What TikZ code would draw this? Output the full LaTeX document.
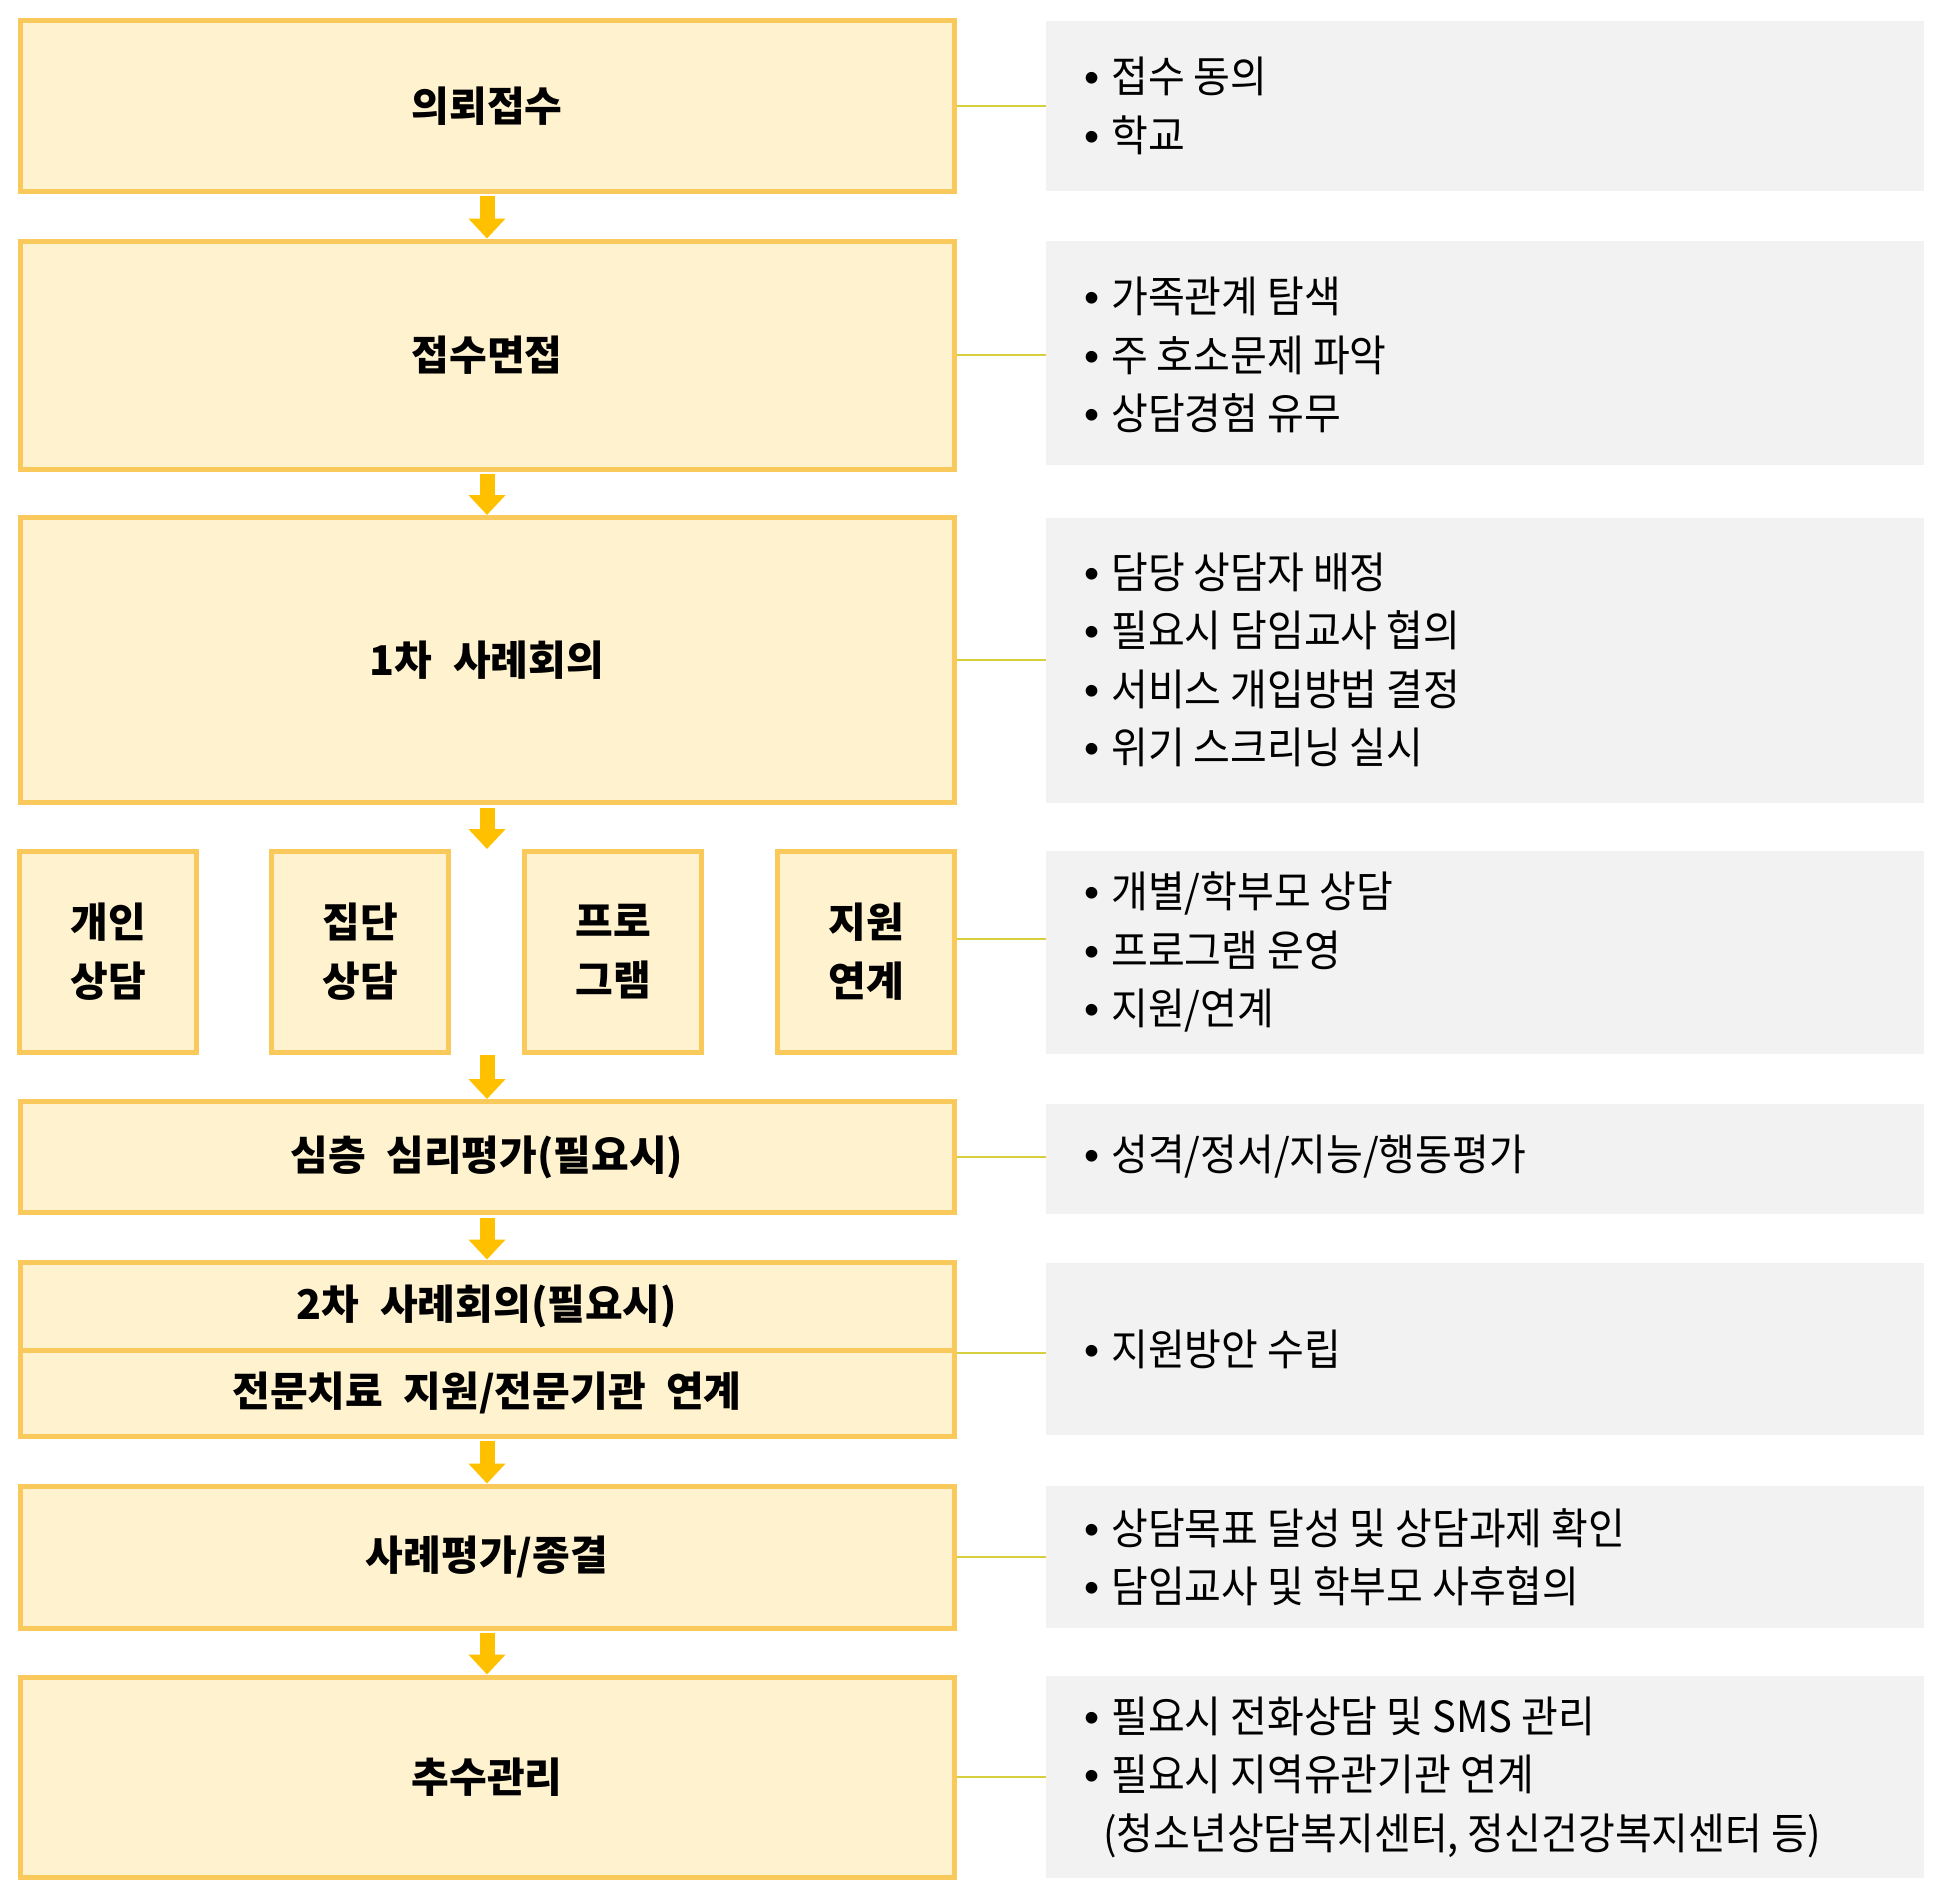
\documentclass[tikz,border=0pt]{standalone}
\usepackage{fontspec}
\setmainfont{Noto Sans CJK KR}
\newfontfamily\notefont{Noto Sans CJK KR}[FakeStretch=0.93]
\newfontfamily\dotfont{Liberation Sans}
\usetikzlibrary{arrows.meta}

\definecolor{boxfill}{RGB}{255,242,206}
\definecolor{boxline}{RGB}{250,201,92}
\definecolor{arrowc}{RGB}{255,192,0}
\definecolor{linkc}{RGB}{214,208,60}
\definecolor{notefill}{RGB}{242,242,242}

\newcommand{\gap}{\hspace{0.5em}}
\newcommand{\bul}{\makebox[27pt][l]{\dotfont •}}

\tikzset{
  stage/.style={draw=boxline, fill=boxfill, line width=5pt, minimum width=934pt,
    inner sep=0pt, align=center, font=\fontsize{41}{59}\selectfont\bfseries},
  substage/.style={stage, minimum width=177pt, minimum height=201pt},
  note/.style={fill=notefill, minimum width=878pt, inner sep=0pt},
  notetext/.style={anchor=west, inner sep=0pt, align=left,
    font=\notefont\fontsize{43}{58.5}\selectfont},
  flow/.style={arrowc, line width=15pt, shorten <=2.5pt,
    -{Triangle[width=36pt,length=20pt]}},
  link/.style={linkc, line width=2pt},
}

\begin{document}
\begin{tikzpicture}[x=1pt,y=-1pt]
  \useasboundingbox (0,0) rectangle (1940,1900);

  % Stages on the left
  \node[stage, minimum height=170pt] (intake) at (487,106) {의뢰접수};
  \node[stage, minimum height=228pt] (interview) at (487,355) {접수면접};
  \node[stage, minimum height=285pt] (meeting1) at (487,660) {1차\gap{}사례회의};

  % Four kinds of service
  \node[substage] (svc1) at (108,952) {개인\\상담};
  \node[substage] (svc2) at (360,952) {집단\\상담};
  \node[substage] (svc3) at (613,952) {프로\\그램};
  \node[substage] (svc4) at (866,952) {지원\\연계};

  \node[stage, minimum height=111pt] (assess) at (487,1157) {심층\gap{}심리평가(필요시)};
  \node[stage, minimum height=88pt] (meeting2) at (487,1306) {2차\gap{}사례회의(필요시)};
  \node[stage, minimum height=86pt] (referral) at (487,1393) {전문치료\gap{}지원/전문기관\gap{}연계};
  \node[stage, minimum height=142pt] (closing) at (487,1557) {사례평가/종결};
  \node[stage, minimum height=200pt] (followup) at (487,1777) {추수관리};

  % Arrows between the stages
  \coordinate (split) at (meeting1.south |- svc2.north);
  \coordinate (merge) at (assess.north |- svc2.south);
  \draw[flow] (intake.south) -- (interview.north);
  \draw[flow] (interview.south) -- (meeting1.north);
  \draw[flow] (meeting1.south) -- (split);
  \draw[flow, shorten <=0pt] (merge) -- (assess.north);
  \draw[flow] (assess.south) -- (meeting2.north);
  \draw[flow] (referral.south) -- (closing.north);
  \draw[flow] (closing.south) -- (followup.north);

  % Grey notes on the right
  \node[note, minimum height=170pt] (note1) at (1485,106) {};
  \node[note, minimum height=224pt] (note2) at (1485,353) {};
  \node[note, minimum height=285pt] (note3) at (1485,660) {};
  \node[note, minimum height=203pt] (note4) at (1485,952) {};
  \node[note, minimum height=110pt] (note5) at (1485,1159) {};
  \node[note, minimum height=172pt] (note6) at (1485,1349) {};
  \node[note, minimum height=142pt] (note7) at (1485,1557) {};
  \node[note, minimum height=202pt] (note8) at (1485,1777) {};

  \node[notetext] (text1) at (1084,106) {\bul 접수 동의\\\bul 학교};
  \node[notetext] (text2) at (1084,355) {\bul 가족관계 탐색\\\bul 주 호소문제 파악\\\bul 상담경험 유무};
  \node[notetext] (text3) at (1084,660) {\bul 담당 상담자 배정\\\bul 필요시 담임교사 협의\\\bul 서비스 개입방법 결정\\\bul 위기 스크리닝 실시};
  \node[notetext] (text4) at (1084,952) {\bul 개별/학부모 상담\\\bul 프로그램 운영\\\bul 지원/연계};
  \node[notetext] (text5) at (1084,1157) {\bul 성격/정서/지능/행동평가};
  \node[notetext] (text6) at (1084,1349) {\bul 지원방안 수립};
  \node[notetext] (text7) at (1084,1557) {\bul 상담목표 달성 및 상담과제 확인\\\bul 담임교사 및 학부모 사후협의};
  \node[notetext] (text8) at (1084,1777) {\bul 필요시 전화상담 및 SMS 관리\\\bul 필요시 지역유관기관 연계\\\hspace*{19pt}(청소년상담복지센터, 정신건강복지센터 등)};

  % Links from stage to note
  \draw[link] (intake.east) -- (note1.west);
  \draw[link] (interview.east) -- (interview.east -| note2.west);
  \draw[link] (meeting1.east) -- (note3.west);
  \draw[link] ([yshift=13pt]svc4.east) -- ([yshift=13pt]note4.west);
  \draw[link] (assess.east) -- (assess.east -| note5.west);
  \draw[link] (meeting2.south east) -- (meeting2.south east -| note6.west);
  \draw[link] (closing.east) -- (note7.west);
  \draw[link] (followup.east) -- (note8.west);

\end{tikzpicture}
\end{document}
